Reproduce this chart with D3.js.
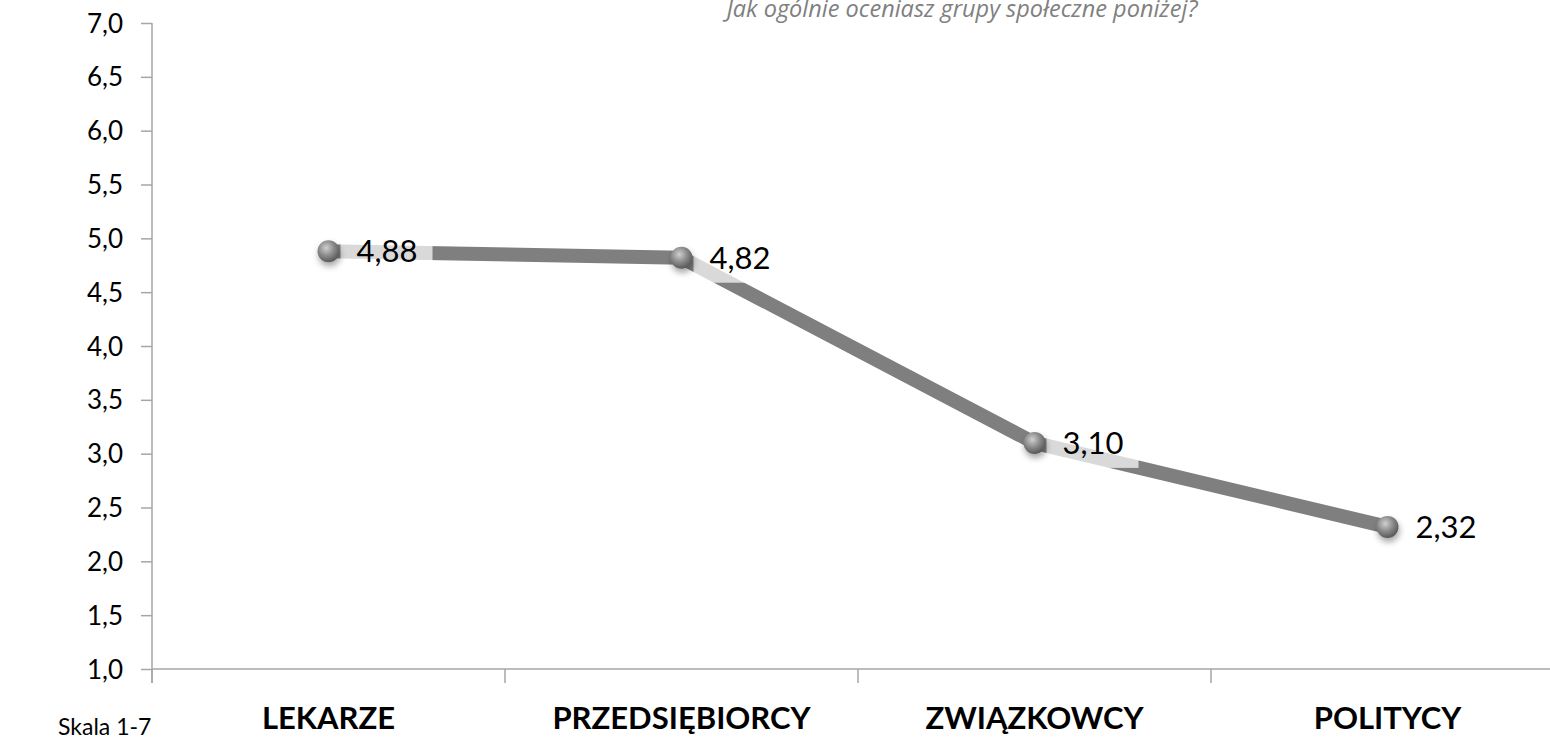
<!DOCTYPE html>
<head>
  <meta charset="utf-8">
  <title>Jak ogólnie oceniasz grupy społeczne poniżej?</title>
  <script src="https://d3js.org/d3.v7.min.js"></script>
  <style>
    body { margin: 0px; background: white; }
    text { font-family: Lato, "Open Sans", sans-serif; fill: black; }
    .axis path, .axis line { stroke: #a6a6a6; stroke-width: 1.5; }
    .axis text { font-size: 26px; }
    .cat { font-size: 31px; font-weight: bold; }
    .lbl { font-size: 31px; }
  </style>
</head>
<body>
  <svg width="1550" height="741"></svg>
  <script>
    var categories = ["LEKARZE", "PRZEDSIĘBIORCY", "ZWIĄZKOWCY", "POLITYCY"];
    var values = [4.88, 4.82, 3.10, 2.32];
    var yTicks = [1, 1.5, 2, 2.5, 3, 3.5, 4, 4.5, 5, 5.5, 6, 6.5, 7];

    var svg = d3.select("svg");
    var margin = { "top": 23, "left": 152, "right": -14, "bottom": 72 };
    var plot = {
      "width": 1550 - margin.left - margin.right,
      "height": 741 - margin.top - margin.bottom
    };

    var defs = svg.append("defs");
    var grad = defs.append("radialGradient").attr("id", "ball")
      .attr("cx", "40%").attr("cy", "35%").attr("r", "65%");
    grad.append("stop").attr("offset", "0%").attr("stop-color", "#d0d0d0");
    grad.append("stop").attr("offset", "55%").attr("stop-color", "#8a8a8a");
    grad.append("stop").attr("offset", "100%").attr("stop-color", "#5a5a5a");
    defs.append("filter").attr("id", "shadow").attr("x", "-50%").attr("y", "-50%")
      .attr("width", "200%").attr("height", "200%")
      .append("feDropShadow").attr("dx", 1).attr("dy", 4).attr("stdDeviation", 3)
      .attr("flood-color", "#000").attr("flood-opacity", 0.35);

    var g = svg.append("g").attr("transform", translate(margin.left, margin.top));

    var x = d3.scaleBand().domain(categories).range([0, plot.width]);
    var y = d3.scaleLinear().domain([1, 7]).range([plot.height, 0]);

    // title (cut at the top edge, as in the original)
    svg.append("text")
      .attr("x", 962).attr("y", 17)
      .attr("text-anchor", "middle")
      .style("font-family", "'Open Sans', sans-serif")
      .style("font-style", "italic")
      .style("font-size", "23.5px")
      .style("fill", "#808080")
      .text("Jak ogólnie oceniasz grupy społeczne poniżej?");

    // y axis
    var yAxis = g.append("g").attr("class", "axis")
      .call(d3.axisLeft(y).tickValues(yTicks).tickSize(11).tickPadding(18)
        .tickFormat(function(d) { return d3.format(".1f")(d).replace(".", ","); }));
    yAxis.select(".domain").attr("d", "M0,0V" + (plot.height + 14));
    yAxis.selectAll("text").attr("dy", "0.35em");

    // x axis
    var bounds = categories.map(function(c) { return x(c); }).concat([plot.width]);
    var xg = g.append("g").attr("class", "axis")
      .attr("transform", translate(0, plot.height));
    xg.append("line").attr("x1", 0).attr("x2", plot.width).attr("y1", 0).attr("y2", 0);
    xg.selectAll(".tk").data(bounds).enter().append("line")
      .attr("class", "tk")
      .attr("x1", function(d) { return d; }).attr("x2", function(d) { return d; })
      .attr("y1", 0).attr("y2", 14);

    g.selectAll(".cat").data(categories).enter().append("text")
      .attr("class", "cat")
      .attr("x", function(d) { return x(d) + x.bandwidth() / 2; })
      .attr("y", plot.height + 60)
      .attr("text-anchor", "middle")
      .text(function(d) { return d; });

    svg.append("text")
      .attr("x", 58).attr("y", 735)
      .style("font-size", "23px")
      .text("Skala 1-7");

    var data = categories.map(function(c, i) { return { cat: c, v: values[i] }; });
    var cx = function(d) { return x(d.cat) + x.bandwidth() / 2; };
    var cy = function(d) { return y(d.v); };

    // line
    g.append("path").datum(data)
      .attr("fill", "none")
      .attr("stroke", "#7f7f7f")
      .attr("stroke-width", 14)
      .attr("stroke-linejoin", "round")
      .attr("d", d3.line().x(cx).y(cy));

    // label boxes (semi-transparent white)
    g.selectAll(".box").data(data).enter().append("rect")
      .attr("x", function(d) { return cx(d) + 12; })
      .attr("y", function(d) { return cy(d) - 20; })
      .attr("width", 92).attr("height", 45)
      .attr("fill", "white").attr("fill-opacity", 0.7);

    // markers
    g.selectAll(".dot").data(data).enter().append("circle")
      .attr("cx", cx).attr("cy", cy).attr("r", 11)
      .attr("fill", "url(#ball)")
      .attr("filter", "url(#shadow)");

    g.selectAll(".lbl").data(data).enter().append("text")
      .attr("class", "lbl")
      .attr("x", function(d) { return cx(d) + 28; })
      .attr("y", function(d) { return cy(d) + 11; })
      .text(function(d) { return d3.format(".2f")(d.v).replace(".", ","); });

    function translate(x, y) {
      return "translate(" + String(x) + "," + String(y) + ")";
    }
  </script>
</body>
</html>
